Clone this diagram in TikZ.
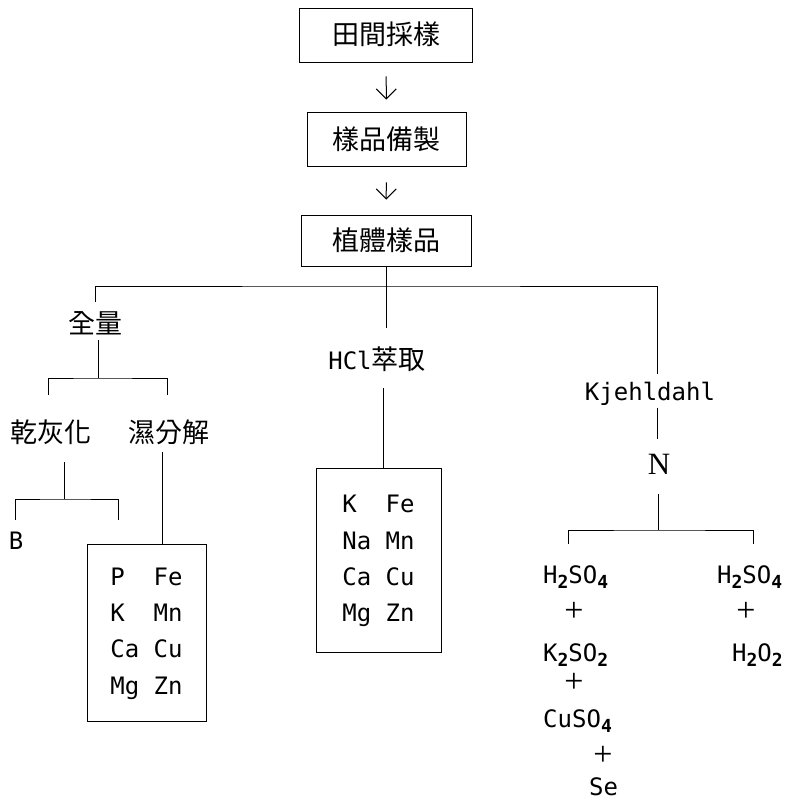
\documentclass[tikz,border=0pt]{standalone}
\usepackage{fontspec}
\newfontfamily\cjk{Noto Sans CJK TC}
\newfontfamily\tele{DejaVu Sans Mono}
\newfontfamily\serifN{Liberation Serif}
\usetikzlibrary{arrows.meta, calc}
\tikzstyle{stage} = [rectangle, draw, line width=0.8pt, inner sep=0pt, font=\cjk\fontsize{27}{32}\selectfont, text height=23pt, text depth=3pt]
\tikzstyle{tag} = [inner sep=0pt, font=\cjk\fontsize{27}{32}\selectfont, text height=23pt, text depth=3pt]
\tikzstyle{chem} = [inner sep=0pt, font=\tele\fontsize{24}{29}\selectfont, text height=18pt, text depth=0pt]
\tikzstyle{plus} = [inner sep=0pt, font=\serifN\fontsize{34}{40}\selectfont]
\tikzstyle{elembox} = [rectangle, draw, line width=0.8pt, inner sep=0pt, font=\tele\fontsize{24}{29}\selectfont]
\tikzstyle{flow} = [line width=1pt, -{Straight Barb[length=10pt,width=20pt,line width=1pt]}]
\tikzstyle{link} = [line width=0.8pt]
\newcommand{\chemsub}[1]{\raisebox{-5pt}{\fontsize{18}{22}\selectfont\bfseries #1}}
\newcommand{\elemtab}[1]{\renewcommand{\arraystretch}{1.25}\begin{tabular}{@{}l@{\hspace{14.45pt}}l@{}}#1\end{tabular}}

\begin{document}
\begin{tikzpicture}[x=1pt, y=-1pt]
            \useasboundingbox (0,0) rectangle (793,800);

            \node (field) [stage, minimum width=173pt, minimum height=54pt] at (386,35) {田間採樣};
            \node (prep) [stage, minimum width=159pt, minimum height=54pt] at (386.5,139) {樣品備製};
            \node (plant) [stage, minimum width=170pt, minimum height=51pt] at (386,240.5) {植體樣品};
            \draw [flow, shorten <=14pt, shorten >=12pt] (field) -- (prep);
            \draw [flow, shorten <=16pt, shorten >=15pt] (prep) -- (plant);

            % three ways of digestion
            \coordinate (split) at (386,286);
            \node (total) [tag] at (95,323) {全量};
            \node (hcl) [tag] at (377,359) {{\tele\fontsize{24}{29}\selectfont HCl}萃取};
            \node (kjeh) [chem] at (650,391.5) {Kjehldahl};
            \draw [link] (plant) -- (split);
            \draw [link] ($(total.north)+(0pt,8pt)$) |- (split) -| ($(kjeh.north)+(7pt,8pt)$);
            \draw [link] (split) -- ($(hcl.north -| split)+(0pt,18pt)$);

            % total amount
            \coordinate (totj) at (98,378);
            \node (dry) [tag] at (51,432) {乾灰化};
            \node (wet) [tag] at (168.5,432) {濕分解};
            \draw [link] ($(total.south)+(3pt,-4pt)$) -- (totj);
            \draw [link] ($(dry.north)+(-3pt,24pt)$) |- (totj) -| ($(wet.north)+(-1.5pt,24pt)$);

            \coordinate (dryj) at (64,499);
            \coordinate (dryr) at (118,520);
            \node (boron) [chem] at (16,540) {B};
            \draw [link] ($(dry.south)+(13pt,-17pt)$) -- (dryj);
            \draw [link] ($(boron.north)+(-1pt,11pt)$) |- (dryj) -| (dryr);

            \node (wetbox) [elembox, minimum width=119pt, minimum height=177pt] at (146.5,632.5)
                {\elemtab{P & Fe\\ K & Mn\\ Ca & Cu\\ Mg & Zn}};
            \draw [link] ($(wet.south)+(-6pt,-7pt)$) -- ($(wet.south |- wetbox.north)+(-6pt,0pt)$);

            % HCl extraction
            \node (hclbox) [elembox, minimum width=125pt, minimum height=184pt] at (378.5,560)
                {\elemtab{K & Fe\\ Na & Mn\\ Ca & Cu\\ Mg & Zn}};
            \draw [link] ($(hcl.south)+(6pt,-16pt)$) -- ($(hcl.south |- hclbox.north)+(6pt,0pt)$);

            % Kjeldahl nitrogen
            \node (nitro) [inner sep=0pt, font=\serifN\fontsize{31}{37}\selectfont] at (659,464) {N};
            \draw [link] ($(kjeh.south)+(7pt,-7pt)$) -- ($(nitro.north)+(-2pt,15pt)$);
            \coordinate (nj) at (658,530);
            \coordinate (nl) at (568,544);
            \coordinate (nr) at (753,544);
            \draw [link] ($(nitro.south)+(-1pt,-20pt)$) -- (nj);
            \draw [link] (nl) |- (nj) -| (nr);

            \node (acidA) [chem, anchor=west] at (543,574) {H\chemsub{2}SO\chemsub{4}};
            \node (plusA) [plus] at (574,612) {+};
            \node (sulfK) [chem, anchor=west] at (543,652) {K\chemsub{2}SO\chemsub{2}};
            \node (plusB) [plus] at (574,683) {+};
            \node (cuso) [chem, anchor=west] at (543,718) {CuSO\chemsub{4}};
            \node (plusC) [plus] at (603,756) {+};
            \node (selen) [chem, anchor=west] at (589,786) {Se};

            \node (acidB) [chem, anchor=west] at (717,574) {H\chemsub{2}SO\chemsub{4}};
            \node (plusD) [plus] at (746,612) {+};
            \node (perox) [chem, anchor=west] at (732,652) {H\chemsub{2}O\chemsub{2}};
        \end{tikzpicture}
\end{document}
